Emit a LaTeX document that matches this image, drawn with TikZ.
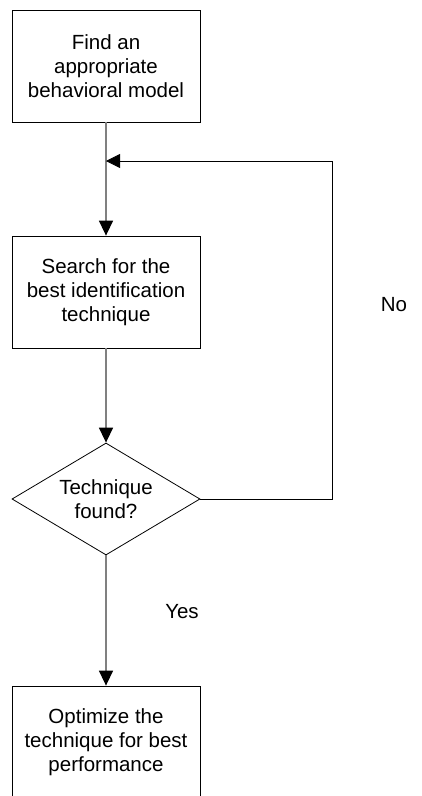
\documentclass[tikz,border=0pt]{standalone}
\usepackage{fontspec}
\setmainfont{Liberation Sans}
\usetikzlibrary{shapes.geometric,arrows.meta}
\begin{document}
\begin{tikzpicture}[x=1pt,y=-1pt,
  stepbox/.style={draw,line width=.8pt,minimum width=188pt,minimum height=112pt,
    inner sep=0pt,align=center,font=\fontsize{20.5}{24}\selectfont},
  testbox/.style={draw,diamond,shape aspect=1.68,line width=.8pt,minimum width=188pt,
    minimum height=112pt,inner sep=0pt,align=center,font=\fontsize{20.5}{24}\selectfont},
  flow/.style={draw=gray,line width=1.5pt,-{Triangle[length=15pt,width=14pt,color=black]}},
  back/.style={draw,line width=.8pt,-{Triangle[length=14pt,width=14pt]}},
  lab/.style={font=\fontsize{20.5}{24}\selectfont}]
\useasboundingbox (0,0) rectangle (421,796);
\node[stepbox] (find) at (106,66) {Find an\\appropriate\\behavioral model};
\node[stepbox] (search) at (106,292) {Search for the\\best identification\\technique};
\node[testbox] (found) at (106,499) {Technique\\found?};
\node[stepbox] (optim) at (106,742) {Optimize the\\technique for best\\performance};
\coordinate (join) at (106,161);
\coordinate (corner) at (332,499);
%%%%
\draw[flow] (find) -- (search);
\draw[flow] (search) -- (found);
\draw[flow] (found) -- (optim);
\draw[back] (found.east) -- (corner) |- (join);
\node[lab] (yes) at (182,612) {Yes};
\node[lab] (no) at (394,305) {No};
\end{tikzpicture}
\end{document}
